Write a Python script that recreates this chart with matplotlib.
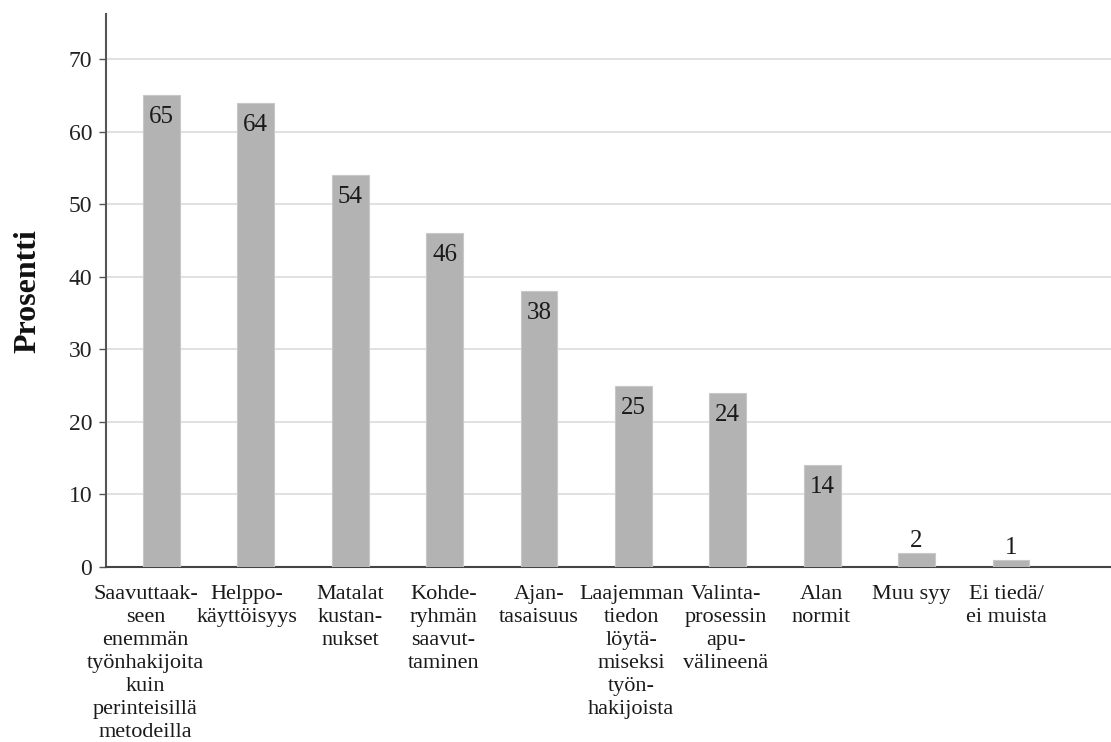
import matplotlib
matplotlib.use("Agg")
import matplotlib.pyplot as plt
from matplotlib.transforms import ScaledTranslation

categories = [
    "Saavuttaak-\nseen\nenemmän\ntyönhakijoita\nkuin\nperinteisillä\nmetodeilla",
    "Helppo-\nkäyttöisyys",
    "Matalat\nkustan-\nnukset",
    "Kohde-\nryhmän\nsaavut-\ntaminen",
    "Ajan-\ntasaisuus",
    "Laajemman\ntiedon\nlöytä-\nmiseksi\ntyön-\nhakijoista",
    "Valinta-\nprosessin\napu-\nvälineenä",
    "Alan\nnormit",
    "Muu syy",
    "Ei tiedä/\nei muista",
]
values = [65, 64, 54, 46, 38, 25, 24, 14, 2, 1]
yticks = [0, 10, 20, 30, 40, 50, 60, 70]
# small horizontal nudges of the category labels (pixels), as in the original
label_shift = [-16, -9, 0, -1, 0, -2, -2, -1, -5, -5]

plt.rcParams['font.family'] = ['Liberation Serif', 'DejaVu Serif']

fig = plt.figure(figsize=(11.11, 7.42), dpi=100)
ax = fig.add_axes([0.0954, 0.2358, 0.9046, 0.7452])

x = list(range(len(values)))
bars = ax.bar(x, values, width=0.39, color='#b3b3b3', edgecolor='#c8c8c8',
              linewidth=0.8, zorder=3)

for xi, v in zip(x, values):
    if v >= 10:
        ax.annotate(str(v), (xi, v), xytext=(0, -11), textcoords='offset pixels',
                    ha='center', va='top', fontsize=18, color='#1a1a1a', zorder=4)
    else:
        ax.annotate(str(v), (xi, v), xytext=(0, 1), textcoords='offset pixels',
                    ha='center', va='bottom', fontsize=18, color='#1a1a1a', zorder=4)

ax.set_xlim(-0.587, 10.06)
ax.set_ylim(0, 76.2)
ax.set_yticks(yticks)
ax.set_yticklabels([str(t) for t in yticks], fontsize=17, color='#222222')
ax.yaxis.grid(True, color='#dedede', linewidth=1.3, zorder=0)
ax.set_axisbelow(True)

ax.set_xticks(x)
ax.set_xticklabels(categories, fontsize=16, color='#1a1a1a', linespacing=1.29)
ax.tick_params(axis='x', length=0, pad=13)
ax.tick_params(axis='y', length=5, width=1, color='#555555', pad=5)
for lab, dx in zip(ax.get_xticklabels(), label_shift):
    lab.set_transform(lab.get_transform() + ScaledTranslation(dx / 100, 0, fig.dpi_scale_trans))

for s in ['top', 'right']:
    ax.spines[s].set_visible(False)
ax.spines['left'].set_color('#555555')
ax.spines['left'].set_linewidth(1.5)
ax.spines['bottom'].set_color('#444444')
ax.spines['bottom'].set_linewidth(1.5)

ax.set_ylabel("Prosentti", fontsize=23, fontweight='bold', color='#111111',
              labelpad=19)

fig.savefig("out.png", dpi=100)
